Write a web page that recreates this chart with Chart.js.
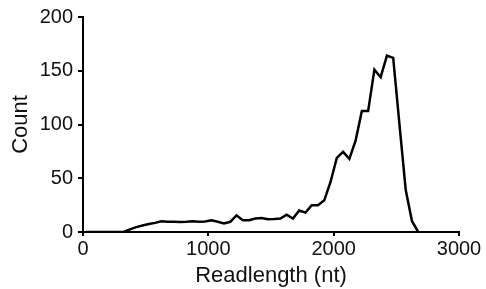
<!DOCTYPE html>
<html>
<head>
<meta charset="utf-8">
<script src="https://cdn.jsdelivr.net/npm/chart.js@4"></script>
<style>
  html, body { margin: 0; padding: 0; background: #fff; }
  #wrap { width: 486px; height: 289px; }
</style>
</head>
<body>
<div id="wrap"><canvas id="lenChart" width="486" height="289"></canvas></div>
<script>
// bin centres (nt) and read counts
var readLengths = [25, 75, 125, 175, 225, 275, 325, 375, 425, 475, 525, 575, 625, 675, 725, 775, 825, 875, 925, 975,
  1025, 1075, 1125, 1175, 1225, 1275, 1325, 1375, 1425, 1475, 1525, 1575, 1625, 1675, 1725, 1775, 1825, 1875, 1925, 1975,
  2025, 2075, 2125, 2175, 2225, 2275, 2325, 2375, 2425, 2475, 2525, 2575, 2625, 2675];
var counts = [0, 0, 0, 0, 0, 0, 0, 2.5, 4.5, 6, 7.5, 8.5, 10, 9.5, 9.5, 9.3, 9.5, 10, 9.5, 9.8,
  10.9, 9.5, 8, 9.5, 15.5, 11, 11, 12.5, 13, 11.8, 12, 12.5, 16, 12.5, 20, 18, 25, 25, 29.5, 46.5,
  69, 74.5, 68, 85, 112.5, 112.5, 151, 144, 164, 162, 100, 39, 10, 0];
var xTicks = [0, 1000, 2000, 3000];
var yTicks = [0, 50, 100, 150, 200];

var points = readLengths.map(function(x, i) { return { x: x, y: counts[i] }; });
var font = "'Liberation Sans', Arial, sans-serif";
var plain = function(v) { return String(v); };

new Chart(document.getElementById("lenChart"), {
  type: "line",
  data: {
    datasets: [{ data: points, borderColor: "#000", borderWidth: 2.5, pointRadius: 0, tension: 0, fill: false }]
  },
  options: {
    responsive: false,
    animation: false,
    layout: { padding: { left: 0, right: 27, top: 17, bottom: 0 } },
    plugins: { legend: { display: false }, tooltip: { enabled: false } },
    scales: {
      x: {
        type: "linear", min: 0, max: 3000,
        afterBuildTicks: function(s) { s.ticks = xTicks.map(function(v) { return { value: v }; }); },
        afterFit: function(s) { s.height = 57; },
        border: { display: true, color: "#000", width: 2 },
        grid: { drawOnChartArea: false, drawTicks: true, tickLength: 4, color: "#000", lineWidth: 2 },
        ticks: { color: "#111", padding: 1, maxRotation: 0, callback: plain, font: { family: font, size: 20 } },
        title: { display: true, text: "Readlength (nt)", color: "#111", padding: { top: 0, bottom: 0 }, font: { family: font, size: 22 } }
      },
      y: {
        min: 0, max: 200,
        afterBuildTicks: function(s) { s.ticks = yTicks.map(function(v) { return { value: v }; }); },
        afterFit: function(s) { s.width = 83; },
        border: { display: true, color: "#000", width: 2 },
        grid: { drawOnChartArea: false, drawTicks: true, tickLength: 5, color: "#000", lineWidth: 2 },
        ticks: { color: "#111", padding: 5, callback: plain, font: { family: font, size: 20 } },
        title: { display: true, text: "Count", color: "#111", padding: { top: 8, bottom: 0 }, font: { family: font, size: 22 } }
      }
    }
  }
});
</script>
</body>
</html>
